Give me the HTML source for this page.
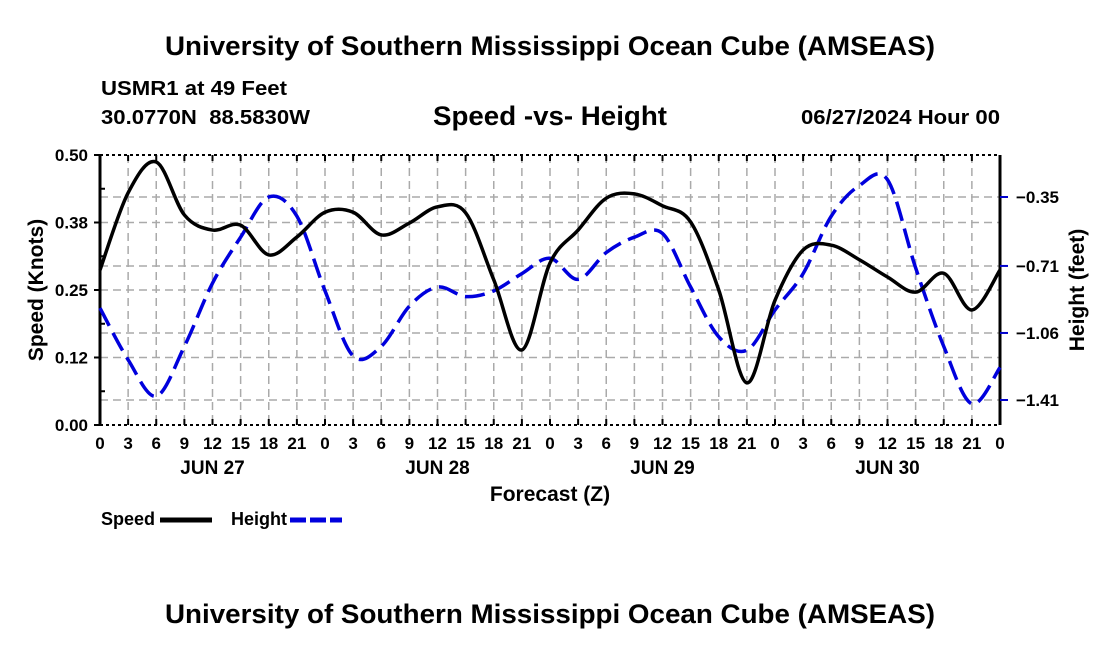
<!DOCTYPE html>
<html><head><meta charset="utf-8"><style>
body{margin:0;background:#fff;}
svg text{font-family:"Liberation Sans",Arial,sans-serif;font-weight:bold;}
</style></head><body>
<svg id="c" width="1100" height="650" viewBox="0 0 1100 650">
<text x="165" y="55" font-size="27" textLength="770" lengthAdjust="spacingAndGlyphs">University of Southern Mississippi Ocean Cube (AMSEAS)</text>
<text x="101" y="95" font-size="20" textLength="186" lengthAdjust="spacingAndGlyphs">USMR1 at 49 Feet</text>
<text x="101" y="124" font-size="20" textLength="209" lengthAdjust="spacingAndGlyphs" xml:space="preserve">30.0770N  88.5830W</text>
<text x="433" y="125" font-size="27" textLength="234" lengthAdjust="spacingAndGlyphs">Speed -vs- Height</text>
<text x="801" y="124" font-size="20" textLength="199" lengthAdjust="spacingAndGlyphs">06/27/2024 Hour 00</text>
<text x="550" y="501" text-anchor="middle" font-size="21">Forecast (Z)</text>
<text transform="translate(43,290) rotate(-90)" text-anchor="middle" font-size="21">Speed (Knots)</text>
<text transform="translate(1084,290) rotate(-90)" text-anchor="middle" font-size="21">Height (feet)</text>
<text x="165" y="623" font-size="27" textLength="770" lengthAdjust="spacingAndGlyphs">University of Southern Mississippi Ocean Cube (AMSEAS)</text>
<g>
<text x="101" y="525" font-size="18">Speed</text>
<line x1="160" y1="520" x2="212" y2="520" stroke="#000" stroke-width="5"/>
<text x="231" y="525" font-size="18">Height</text>
<line x1="290" y1="520" x2="342" y2="520" stroke="#0000dd" stroke-width="5" stroke-dasharray="16,4"/>
</g>
<g id="plot"></g>
</svg>
<script>
const hours=[0,3,6,9,12,15,18,21,24,27,30,33,36,39,42,45,48,51,54,57,60,63,66,69,72,75,78,81,84,87,90,93,96];
const speed=[0.287,0.430,0.487,0.389,0.361,0.370,0.315,0.348,0.394,0.394,0.352,0.374,0.404,0.393,0.269,0.139,0.30,0.361,0.420,0.428,0.406,0.376,0.25,0.078,0.231,0.324,0.333,0.306,0.274,0.246,0.281,0.213,0.287];
const height=[-0.93,-1.20,-1.39,-1.13,-0.80,-0.56,-0.35,-0.45,-0.84,-1.18,-1.13,-0.92,-0.82,-0.87,-0.84,-0.75,-0.67,-0.78,-0.64,-0.56,-0.54,-0.82,-1.08,-1.15,-0.94,-0.75,-0.45,-0.29,-0.26,-0.72,-1.13,-1.43,-1.24];
const speedTicks=[0,0.125,0.25,0.375,0.5];
const speedTickLabels=["0.00","0.12","0.25","0.38","0.50"];
const heightTicks=[-0.35,-0.71,-1.06,-1.41];
const dayLabels=["JUN 27","JUN 28","JUN 29","JUN 30"];
const X0=100,X1=1000,Y0=425,Y1=155;
const x=h=>X0+(X1-X0)*h/96;
const yS=v=>Y0-(Y0-Y1)*v/0.5;
const yH=v=>197-(v+0.35)*191.5;
const NS="http://www.w3.org/2000/svg";
const plot=document.getElementById('plot');
function mk(t,a,p){const e=document.createElementNS(NS,t);for(const k in a)e.setAttribute(k,a[k]);(p||plot).appendChild(e);return e;}
for(let h=3;h<96;h+=3){const e=mk('line',{x1:x(h),x2:x(h),y1:Y1,y2:Y0,stroke:'#aaa','stroke-width':1.5,'stroke-dasharray':'8,5'});

}
speedTicks.slice(1,4).forEach(v=>{const e=mk('line',{x1:X0,x2:X1,y1:yS(v),y2:yS(v),stroke:'#aaa','stroke-width':1.5,'stroke-dasharray':'8,5'});

});
heightTicks.forEach(v=>{const e=mk('line',{x1:X0,x2:X1,y1:yH(v),y2:yH(v),stroke:'#aaa','stroke-width':1.5,'stroke-dasharray':'8,5'});

});
[[X0,Y1,X1,Y1],[X0,Y0,X1,Y0]].forEach(c=>{const e=mk('line',{x1:c[0],y1:c[1],x2:c[2],y2:c[3],stroke:'#000','stroke-width':2,'stroke-dasharray':'3,3'});

});
[X0,X1].forEach(xx=>{const e=mk('line',{x1:xx,y1:Y1,x2:xx,y2:Y0,stroke:'#000','stroke-width':3});

});
for(let h=0;h<=96;h+=3){
 [[Y0,Y0-6],[Y1,Y1+6]].forEach(p=>{const e=mk('line',{x1:x(h),x2:x(h),y1:p[0],y2:p[1],stroke:'#000','stroke-width':2});
 
 });
 const t=mk('text',{x:x(h),y:449,'text-anchor':'middle','font-size':17});t.textContent=String(h%24);
 
 
}
dayLabels.forEach((d,i)=>{const t=mk('text',{x:x(i*24+12),y:474,'text-anchor':'middle','font-size':19});t.textContent=d;

});
for(let v=0;v<=0.5001;v+=0.0625){const major=Math.abs(v*8-Math.round(v*8))<1e-6;
 const e=mk('line',{x1:X0-(major?6:0),x2:X0+(major?0:5),y1:yS(v),y2:yS(v),stroke:'#000','stroke-width':2});
 
 }
speedTicks.forEach((v,i)=>{const t=mk('text',{x:X0-12,y:yS(v)+6,'text-anchor':'end','font-size':17});t.textContent=speedTickLabels[i];

});
heightTicks.forEach(v=>{const e=mk('line',{x1:X1,x2:X1+8,y1:yH(v),y2:yH(v),stroke:'#0000cc','stroke-width':2});


const t=mk('text',{x:X1+16,y:yH(v)+6,'font-size':17});t.textContent='\u2212'+Math.abs(v).toFixed(2);

});
function path(vals,fy){const p=hours.map((h,i)=>[x(h),fy(vals[i])]);let d='M'+p[0][0]+','+p[0][1];
 for(let i=0;i<p.length-1;i++){const a=p[Math.max(0,i-1)],b=p[i],c=p[i+1],e=p[Math.min(p.length-1,i+2)];
  d+=' C'+(b[0]+(c[0]-a[0])/6)+','+(b[1]+(c[1]-a[1])/6)+' '+(c[0]-(e[0]-b[0])/6)+','+(c[1]-(e[1]-b[1])/6)+' '+c[0]+','+c[1];}
 return d;}
const hl=mk('path',{d:path(height,yH),fill:'none',stroke:'#0000dd','stroke-width':3.5,'stroke-dasharray':'20,8'});


const sl=mk('path',{d:path(speed,yS),fill:'none',stroke:'#000','stroke-width':3.5});


</script>
</body></html>
